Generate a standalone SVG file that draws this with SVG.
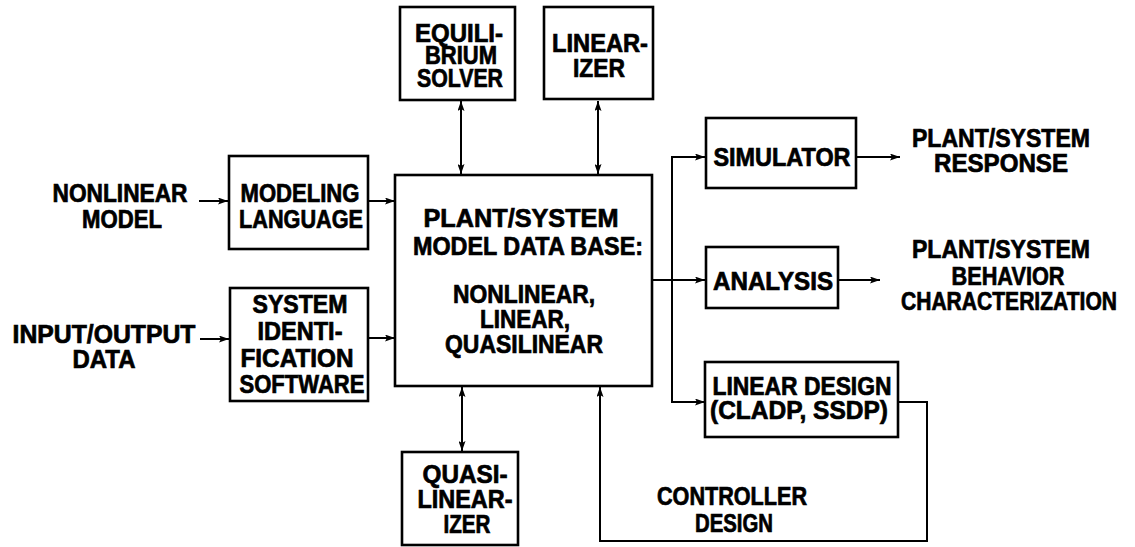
<svg xmlns="http://www.w3.org/2000/svg" width="1135" height="547" viewBox="0 0 1135 547">
<style>
.box{fill:none;stroke:#000;stroke-width:2.6}
.ln{fill:none;stroke:#000;stroke-width:2}
text{font-family:"Liberation Sans",Arial,sans-serif;font-weight:bold;font-size:25px;fill:#000;stroke:#000;stroke-width:0.7;text-anchor:middle}
</style>
<defs>
<marker id="ah" viewBox="0 0 10 7" refX="10" refY="3.5" markerWidth="11" markerHeight="7" markerUnits="userSpaceOnUse" orient="auto-start-reverse">
<path d="M0,0 L10,3.5 L0,7 L2,3.5 z" fill="#000"/>
</marker>
</defs>
<rect width="1135" height="547" fill="#fff"/>
<g id="connectors">
<line class="ln" x1="199" y1="201" x2="228" y2="201" marker-end="url(#ah)"/>
<line class="ln" x1="368" y1="201" x2="395" y2="201" marker-end="url(#ah)"/>
<line class="ln" x1="200" y1="339" x2="229" y2="339" marker-end="url(#ah)"/>
<line class="ln" x1="368" y1="338" x2="395" y2="338" marker-end="url(#ah)"/>
<line class="ln" x1="461" y1="101" x2="461" y2="174" marker-start="url(#ah)" marker-end="url(#ah)"/>
<line class="ln" x1="598" y1="101" x2="598" y2="174" marker-start="url(#ah)" marker-end="url(#ah)"/>
<line class="ln" x1="462" y1="387" x2="462" y2="451" marker-start="url(#ah)" marker-end="url(#ah)"/>
<line class="ln" x1="652" y1="280" x2="705" y2="280" marker-end="url(#ah)"/>
<polyline class="ln" points="705,157 672,157 672,402 705,402"/>
<line class="ln" x1="690" y1="157" x2="705" y2="157" marker-end="url(#ah)"/>
<line class="ln" x1="690" y1="402" x2="705" y2="402" marker-end="url(#ah)"/>
<line class="ln" x1="856" y1="157" x2="900" y2="157" marker-end="url(#ah)"/>
<line class="ln" x1="838" y1="280" x2="880" y2="280" marker-end="url(#ah)"/>
<polyline class="ln" points="898,402 927,402 927,541 600,541 600,387" marker-end="url(#ah)"/>
</g>
<g id="nonlinear-model">
<text x="120" y="202" textLength="135" lengthAdjust="spacingAndGlyphs">NONLINEAR</text>
<text x="122" y="228" textLength="80" lengthAdjust="spacingAndGlyphs">MODEL</text>
</g>
<g id="input-output">
<text x="104" y="343" textLength="183" lengthAdjust="spacingAndGlyphs">INPUT/OUTPUT</text>
<text x="104" y="368" textLength="63" lengthAdjust="spacingAndGlyphs">DATA</text>
</g>
<g id="modeling-language">
<rect class="box" x="229" y="156" width="139" height="93"/>
<text x="300" y="202" textLength="119" lengthAdjust="spacingAndGlyphs">MODELING</text>
<text x="301" y="228" textLength="124" lengthAdjust="spacingAndGlyphs">LANGUAGE</text>
</g>
<g id="system-id">
<rect class="box" x="230" y="288" width="138" height="113"/>
<text x="300" y="313" textLength="95" lengthAdjust="spacingAndGlyphs">SYSTEM</text>
<text x="300" y="340" textLength="85" lengthAdjust="spacingAndGlyphs">IDENTI-</text>
<text x="297" y="367" textLength="113" lengthAdjust="spacingAndGlyphs">FICATION</text>
<text x="302" y="393" textLength="125" lengthAdjust="spacingAndGlyphs">SOFTWARE</text>
</g>
<g id="equilibrium-solver">
<rect class="box" x="400" y="7" width="115" height="93"/>
<text x="459" y="42" textLength="88" lengthAdjust="spacingAndGlyphs">EQUILI-</text>
<text x="461" y="64" textLength="72" lengthAdjust="spacingAndGlyphs">BRIUM</text>
<text x="460" y="87" textLength="86" lengthAdjust="spacingAndGlyphs">SOLVER</text>
</g>
<g id="linearizer">
<rect class="box" x="544" y="7" width="109" height="92"/>
<text x="600" y="52" textLength="96" lengthAdjust="spacingAndGlyphs">LINEAR-</text>
<text x="599" y="77" textLength="52" lengthAdjust="spacingAndGlyphs">IZER</text>
</g>
<g id="database">
<rect class="box" x="395" y="175" width="257" height="211"/>
<text x="521" y="227" textLength="195" lengthAdjust="spacingAndGlyphs">PLANT/SYSTEM</text>
<text x="528" y="255" textLength="230" lengthAdjust="spacingAndGlyphs">MODEL DATA BASE:</text>
<text x="524" y="303" textLength="142" lengthAdjust="spacingAndGlyphs">NONLINEAR,</text>
<text x="525" y="328" textLength="90" lengthAdjust="spacingAndGlyphs">LINEAR,</text>
<text x="524" y="353" textLength="158" lengthAdjust="spacingAndGlyphs">QUASILINEAR</text>
</g>
<g id="quasilinearizer">
<rect class="box" x="402" y="452" width="116" height="93"/>
<text x="465" y="483" textLength="85" lengthAdjust="spacingAndGlyphs">QUASI-</text>
<text x="465" y="508" textLength="95" lengthAdjust="spacingAndGlyphs">LINEAR-</text>
<text x="467" y="533" textLength="47" lengthAdjust="spacingAndGlyphs">IZER</text>
</g>
<g id="simulator">
<rect class="box" x="706" y="118" width="150" height="70"/>
<text x="782" y="166" textLength="137" lengthAdjust="spacingAndGlyphs">SIMULATOR</text>
</g>
<g id="response">
<text x="1001" y="147" textLength="178" lengthAdjust="spacingAndGlyphs">PLANT/SYSTEM</text>
<text x="1001" y="172" textLength="134" lengthAdjust="spacingAndGlyphs">RESPONSE</text>
</g>
<g id="analysis">
<rect class="box" x="706" y="247" width="132" height="61"/>
<text x="773" y="290" textLength="120" lengthAdjust="spacingAndGlyphs">ANALYSIS</text>
</g>
<g id="behavior">
<text x="1001" y="258" textLength="178" lengthAdjust="spacingAndGlyphs">PLANT/SYSTEM</text>
<text x="1008" y="285" textLength="113" lengthAdjust="spacingAndGlyphs">BEHAVIOR</text>
<text x="1009" y="310" textLength="216" lengthAdjust="spacingAndGlyphs">CHARACTERIZATION</text>
</g>
<g id="linear-design">
<rect class="box" x="705" y="362" width="193" height="75"/>
<text x="802" y="395" textLength="179" lengthAdjust="spacingAndGlyphs">LINEAR DESIGN</text>
<text x="799" y="419" textLength="178" lengthAdjust="spacingAndGlyphs">(CLADP, SSDP)</text>
</g>
<g id="controller-design">
<text x="732" y="505" textLength="150" lengthAdjust="spacingAndGlyphs">CONTROLLER</text>
<text x="734" y="532" textLength="78" lengthAdjust="spacingAndGlyphs">DESIGN</text>
</g>
</svg>
